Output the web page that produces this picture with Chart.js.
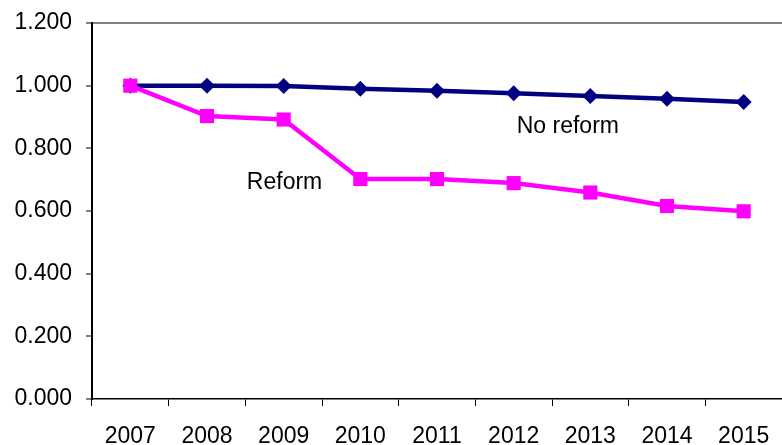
<!DOCTYPE html>
<html>
<head>
<meta charset="utf-8">
<script src="https://cdn.jsdelivr.net/npm/chart.js@4.4.0/dist/chart.umd.min.js"></script>
<style>
  html, body { margin: 0; padding: 0; background: #fff; overflow: hidden; }
  #wrap { width: 782px; height: 445px; position: relative; }
</style>
</head>
<body>
<div id="wrap"><canvas id="graph"></canvas></div>
<script>
// years on the x axis
const years = ['2007', '2008', '2009', '2010', '2011', '2012', '2013', '2014', '2015'];
// series values
const noReform = [1.000, 1.000, 0.999, 0.990, 0.984, 0.976, 0.967, 0.958, 0.948];
const reform   = [1.000, 0.903, 0.892, 0.702, 0.702, 0.689, 0.659, 0.616, 0.599];
// y axis range
const yMin = 0, yMax = 1.2, yStep = 0.2;

// text labels inside the plot, anchored in data units (category index, value)
const noReformLabel = { text: 'No reform', x: 5.04, y: 0.870 };
const reformLabel   = { text: 'Reform',    x: 1.52, y: 0.689 };

const FONT = "'Liberation Sans', Arial, sans-serif";

// 系列名ラベル描画
const seriesLabels = {
    id: 'seriesLabels',
    afterDatasetsDraw(chart) {
        const ctx = chart.ctx;
        const xs = chart.scales.x, ys = chart.scales.y;
        ctx.save();
        ctx.font = '23px ' + FONT;
        ctx.fillStyle = '#000';
        ctx.textAlign = 'left';
        ctx.textBaseline = 'middle';
        for (const l of [noReformLabel, reformLabel]) {
            ctx.fillText(l.text, xs.getPixelForValue(l.x), ys.getPixelForValue(l.y));
        }
        ctx.restore();
    }
};

new Chart(document.getElementById('graph'), {
    type: 'line',
    data: {
        labels: years,
        datasets: [
            {
                label: 'No reform',
                data: noReform,
                borderColor: '#000080',
                backgroundColor: '#000080',
                borderWidth: 4.5,
                pointStyle: 'rectRot',
                pointRadius: 8,
                pointBorderWidth: 0,
                order: 1
            },
            {
                label: 'Reform',
                data: reform,
                borderColor: '#ff00ff',
                backgroundColor: '#ff00ff',
                borderWidth: 4.5,
                pointStyle: 'rect',
                pointRadius: 10,
                pointBorderWidth: 0,
                order: 0
            }
        ]
    },
    options: {
        responsive: true,
        maintainAspectRatio: false,
        animation: false,
        layout: { autoPadding: false, padding: { top: 23, right: -4, left: 0, bottom: 0 } },
        plugins: {
            legend: { display: false },
            tooltip: { enabled: false }
        },
        scales: {
            x: {
                offset: true,
                grid: {
                    offset: true,
                    drawOnChartArea: false,
                    tickLength: 7,
                    tickColor: '#000',
                    tickWidth: 1
                },
                border: { color: '#000', width: 1.5 },
                ticks: {
                    color: '#000',
                    font: { family: FONT, size: 23 },
                    padding: 17,
                    maxRotation: 0,
                    autoSkip: false
                },
                afterFit(scale) {
                    scale.height = 46;
                    scale.paddingLeft = 0;
                    scale.paddingRight = 0;
                }
            },
            y: {
                min: yMin,
                max: yMax,
                grid: {
                    color: (c) => (c.tick && c.tick.value === yMax ? '#808080' : 'rgba(0,0,0,0)'),
                    lineWidth: 2,
                    tickLength: 6,
                    tickColor: '#000',
                    tickWidth: 1
                },
                border: { color: '#000', width: 2 },
                ticks: {
                    stepSize: yStep,
                    color: '#000',
                    font: { family: FONT, size: 23 },
                    padding: 14,
                    callback: (v) => Number(v).toFixed(3)
                },
                afterFit(scale) {
                    scale.width = 92;
                    scale.paddingTop = 0;
                    scale.paddingBottom = 0;
                }
            }
        }
    },
    plugins: [seriesLabels]
});
</script>
</body>
</html>
